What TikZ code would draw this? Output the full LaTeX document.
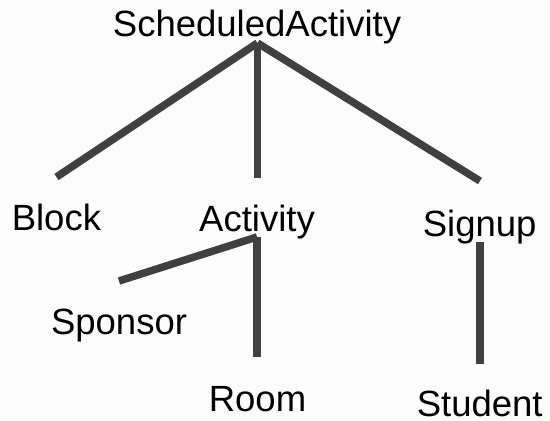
\documentclass[tikz,border=0pt]{standalone}
\usepackage{fontspec}
\setmainfont{Liberation Sans}
\definecolor{linegray}{HTML}{404040}
\definecolor{bggray}{HTML}{FCFCFC}
\tikzset{
  lbl/.style={inner sep=0pt, anchor=base, font=\fontsize{36.5}{40}\selectfont, text=black},
  conn/.style={draw=linegray, line width=7.5pt, line cap=butt}
}
\begin{document}
\begin{tikzpicture}[x=1pt,y=-1pt]
\fill[bggray] (0,0) rectangle (550,421);
\useasboundingbox (0,0) rectangle (550,421);
% text nodes
\node[lbl] (SA) at (257,36) {ScheduledActivity};
\node[lbl] (Block) at (56.4,230) {Block};
\node[lbl] (Activity) at (257,231.5) {Activity};
\node[lbl] (Signup) at (479.7,236.7) {Signup};
\node[lbl] (Sponsor) at (119,334) {Sponsor};
\node[lbl] (Room) at (257.5,411) {Room};
\node[lbl] (Student) at (479.7,416) {Student};
% connector end points
\coordinate (SAroot) at (257.5,43);
\coordinate (Blocktip) at (56.5,177);
\coordinate (Activitytip) at (257.5,178);
\coordinate (Signuptip) at (480,181);
\coordinate (Activityroot) at (257,237);
\coordinate (Sponsortip) at (119,281);
\coordinate (Roomtip) at (257,357);
\coordinate (Signuproot) at (480,242);
\coordinate (Studenttip) at (480,364);
% connectors
\draw[conn] (SAroot) -- (Blocktip);
\draw[conn] (SAroot) -- (Activitytip);
\draw[conn] (SAroot) -- (Signuptip);
\draw[conn] (Activityroot) -- (Sponsortip);
\draw[conn] (Activityroot) -- (Roomtip);
\draw[conn] (Signuproot) -- (Studenttip);
\end{tikzpicture}
\end{document}
